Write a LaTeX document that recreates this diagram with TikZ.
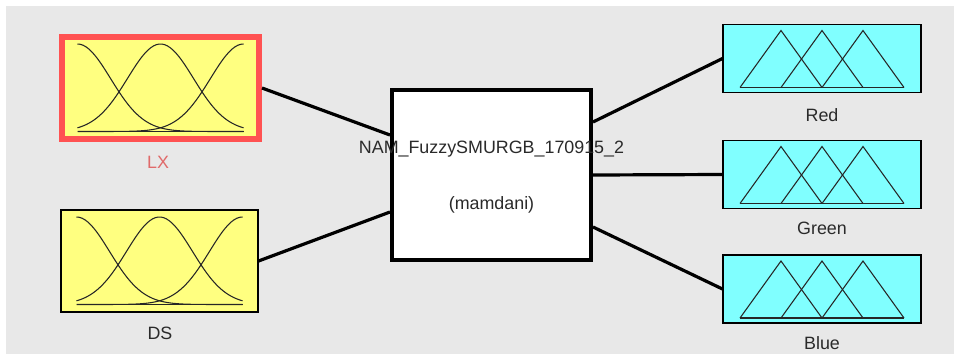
\documentclass[tikz,border=0pt]{standalone}
\usepackage{fontspec}
\setmainfont{Liberation Sans}
\usepackage{xcolor}
\usetikzlibrary{positioning}

\definecolor{bggray}{HTML}{E8E8E8}
\definecolor{mfyellow}{HTML}{FFFF80}
\definecolor{mfcyan}{HTML}{80FFFF}
\definecolor{selred}{HTML}{FF5252}
\definecolor{labelred}{HTML}{E06A6A}
\definecolor{txtgray}{HTML}{2A2A2A}

\begin{document}
\begin{tikzpicture}[x=0.75pt, y=-0.75pt,
    inbox/.style={draw=black, line width=0.8pt, fill=mfyellow, minimum width=147.75pt, minimum height=76.5pt, inner sep=0pt},
    outbox/.style={draw=black, line width=0.8pt, fill=mfcyan, minimum width=148.5pt, minimum height=51pt, inner sep=0pt},
    fisbox/.style={draw=black, line width=3pt, fill=white, minimum width=149.25pt, minimum height=127.5pt, inner sep=0pt},
    lbl/.style={text=txtgray, font=\fontsize{13.4}{16}\selectfont},
    link/.style={line width=2.4pt, black},
    mf/.style={line width=0.8pt, black!85}]
                        \useasboundingbox (0, 0) rectangle (954, 354);
                        \fill[white] (0, 0) rectangle (954, 354);
                        \fill[bggray] (6, 6) rectangle (954, 354);

                        % inputs
                        \node[inbox, draw=selred, line width=4.5pt] (nlx) at (160.5, 88) {};
                        \node[inbox] (nds) at (159.5, 261) {};
                        \node[lbl, text=labelred] (tlx) at (158, 162) {LX};
                        \node[lbl] (tds) at (160, 333) {DS};

                        % system
                        \node[fisbox] (nfis) at (491.5, 175) {};
                        \node[lbl] (tfis) at (491.5, 149) {NAM\_FuzzySMURGB\_170915\_2};
                        \node[lbl] (tmam) at (491.5, 205) {(mamdani)};

                        % outputs
                        \node[outbox] (nred) at (822, 58.5) {};
                        \node[outbox] (ngreen) at (822, 174.5) {};
                        \node[outbox] (nblue) at (822, 289) {};
                        \node[lbl] (tred) at (822, 115) {Red};
                        \node[lbl] (tgreen) at (822, 228) {Green};
                        \node[lbl] (tblue) at (822, 343) {Blue};

                        % gaussian curves
                        \foreach \n in {nlx, nds} {
                            \begin{scope}[shift={(\n.center)}]
                                \foreach \c in {-83, 0, 83}
                                    \draw[mf] plot[domain=-83:83, samples=60, smooth]
                                        (\x, {43.5 - 87.5*exp(-0.5*(((\x)-(\c))/33)^2)});
                                \draw[mf] (-83, 43.5) -- (83, 43.5);
                            \end{scope}
                        }

                        % triangles
                        \foreach \n in {nred, ngreen, nblue} {
                            \begin{scope}[shift={(\n.center)}]
                                \foreach \c in {-41, 0, 41}
                                    \draw[mf, line join=miter] (\c-41, 29) -- (\c, -28) -- (\c+41, 29);
                                \draw[mf] (-82, 29) -- (82, 29);
                            \end{scope}
                        }

                        \draw
                        (nlx.east) edge[link] ([yshift=30pt]nfis.west)
                        (nds.east) edge[link] ([yshift=-27.75pt]nfis.west)
                        ([yshift=39.75pt]nfis.east) edge[link] (nred.west)
                        (nfis.east) edge[link] (ngreen.west)
                        ([yshift=-39pt]nfis.east) edge[link] (nblue.west);
                    \end{tikzpicture}
\end{document}
